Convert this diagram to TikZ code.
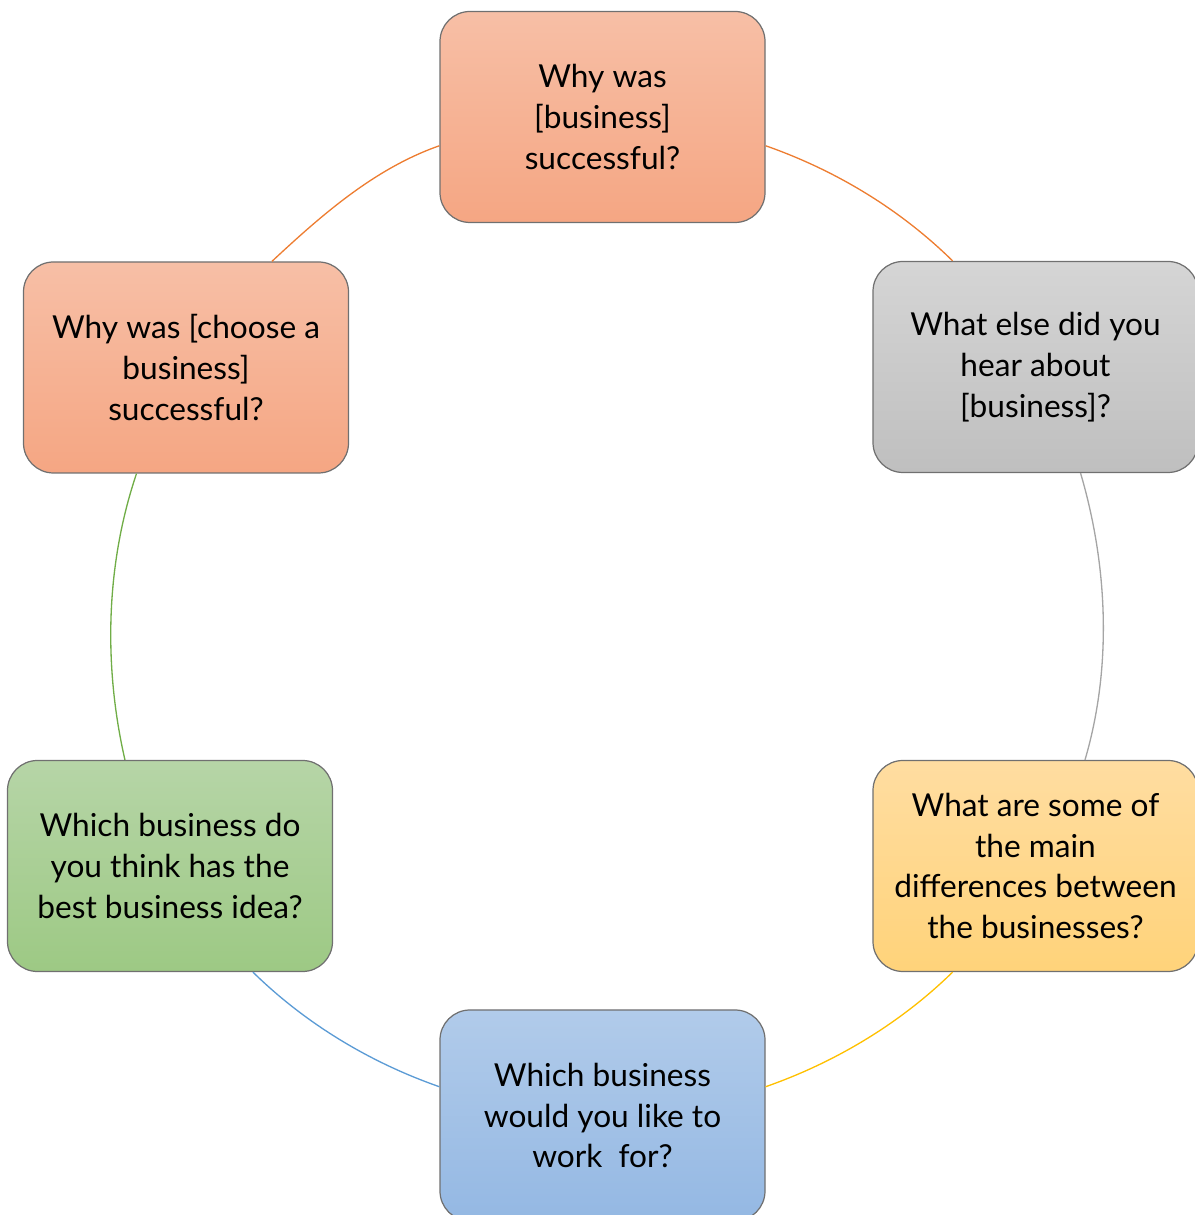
\documentclass[tikz,border=0pt]{standalone}
\usepackage{fontspec}
\setmainfont{Lato}
\definecolor{edgegray}{RGB}{112,112,112}
\definecolor{orTop}{RGB}{247,191,166}
\definecolor{orBot}{RGB}{245,166,131}
\definecolor{grTop}{RGB}{213,213,213}
\definecolor{grBot}{RGB}{191,191,191}
\definecolor{yeTop}{RGB}{255,221,161}
\definecolor{yeBot}{RGB}{255,211,122}
\definecolor{blTop}{RGB}{177,203,234}
\definecolor{blBot}{RGB}{148,184,227}
\definecolor{gnTop}{RGB}{182,213,167}
\definecolor{gnBot}{RGB}{157,201,132}
\definecolor{lnOrange}{RGB}{237,125,49}
\definecolor{lnGray}{RGB}{165,165,165}
\definecolor{lnGold}{RGB}{255,192,0}
\definecolor{lnBlue}{RGB}{91,155,213}
\definecolor{lnGreen}{RGB}{112,173,71}
\begin{document}
\begin{tikzpicture}[x=0.2mm,y=0.2mm,
  qbox/.style={draw=edgegray, line width=0.7pt, rounded corners=6mm,
    minimum width=65mm, minimum height=42.2mm, align=center,
    font=\fontsize{18}{23.2}\selectfont, inner sep=0pt},
  orangebox/.style={qbox, top color=orTop, bottom color=orBot},
  graybox/.style={qbox, top color=grTop, bottom color=grBot},
  yellowbox/.style={qbox, top color=yeTop, bottom color=yeBot},
  bluebox/.style={qbox, top color=blTop, bottom color=blBot},
  greenbox/.style={qbox, top color=gnTop, bottom color=gnBot},
  link/.style={line width=0.75pt, looseness=0.86}]
\useasboundingbox (0,0) rectangle (1195,1215);
\clip (0,0) rectangle (1195,1215);

% question boxes around the cycle
\node[orangebox] (top) at (602.5,1098) {Why was\\{}[business]\\successful?};
\node[graybox]   (ur)  at (1035.5,848) {What else did you\\hear about\\{}[business]?};
\node[yellowbox] (lr)  at (1035.5,349) {What are some of\\the main\\differences between\\the businesses?};
\node[bluebox]   (bot) at (602.5,99.5) {Which business\\would you like to\\work\ \ for?};
\node[greenbox]  (ll)  at (170,349)    {Which business do\\you think has the\\best business idea?};
\node[orangebox] (ul)  at (186,847.5)  {Why was [choose a\\business]\\successful?};

% arcs of the cycle, clockwise
\draw[link, lnOrange] (top.350) to[out=-19.3, in=135.5] (ur.128);
\draw[link, lnGray]   (ur.293.8) to[out=-73.6, in=73.6] (lr.65.9);
\draw[link, lnGold]   (lr.232) to[out=224.4, in=19.3] (bot.10);
\draw[link, lnBlue]   (bot.170) to[out=160.7, in=-44.4] (ll.308);
\draw[link, lnGreen]  (ll.113.5) to[out=102.9, in=251.3] (ul.245.5);
\draw[link, lnOrange] (ul.51) to[out=43, in=199.3] (top.190);
\end{tikzpicture}
\end{document}
